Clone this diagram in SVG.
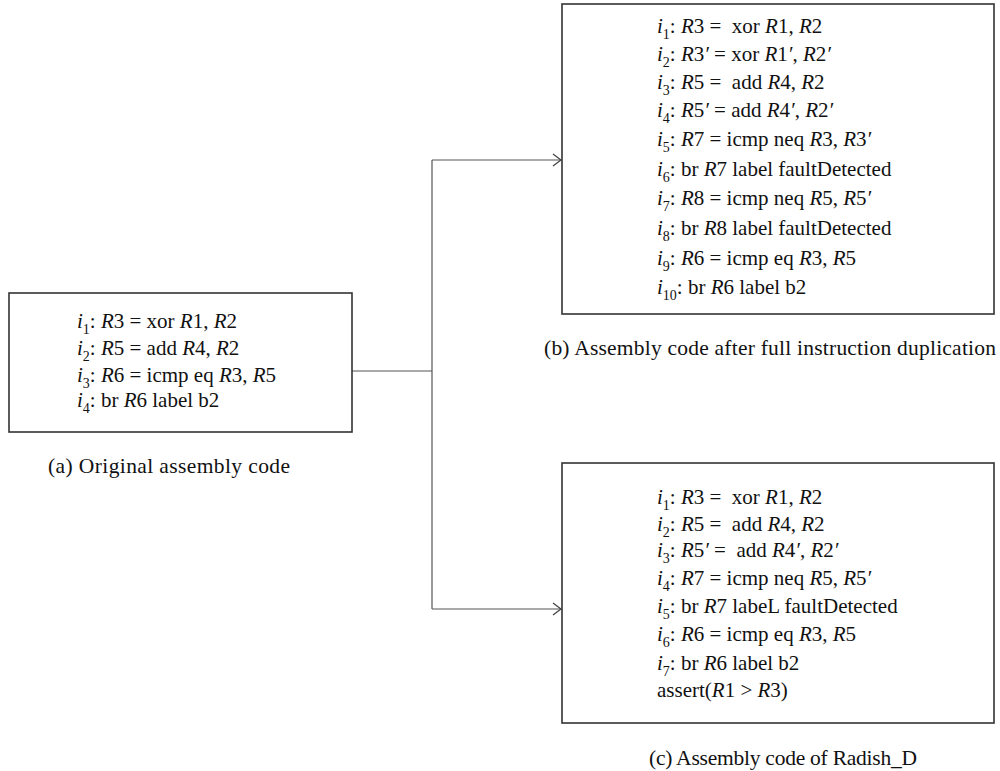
<svg xmlns="http://www.w3.org/2000/svg" width="1000" height="771" viewBox="0 0 1000 771">
<defs>
<style>
.t{font-family:"Liberation Serif","Times New Roman",serif;font-size:21px;fill:#111}
.it{font-style:italic}
.sb{font-size:14px;font-style:normal}
.cap{font-family:"Liberation Serif","Times New Roman",serif;font-size:21.5px;text-anchor:middle;fill:#111}
.box{fill:#fff;stroke:#333;stroke-width:1.6}
.conn{fill:none;stroke:#555;stroke-width:1.2}
</style>
<marker id="arr" markerWidth="10" markerHeight="14" refX="9" refY="7" orient="auto" markerUnits="userSpaceOnUse">
<path d="M1,1 L9,7 L1,13" fill="none" stroke="#444" stroke-width="1.3"/>
</marker>
</defs>
<rect width="1000" height="771" fill="#fff"/>

<g id="connectors">
<path class="conn" d="M352,371 H432"/>
<path class="conn" d="M432,160 V609"/>
<path class="conn" d="M432,160 H561" marker-end="url(#arr)"/>
<path class="conn" d="M432,609 H561" marker-end="url(#arr)"/>
</g>

<g id="node-a" font-family="Liberation Serif, serif">
<rect class="box" x="9" y="293" width="343" height="139"/>
<text class="t" x="77" y="328"><tspan class="it">i</tspan><tspan class="sb" dy="6">1</tspan><tspan dy="-6">: </tspan><tspan class="it">R</tspan>3 = xor <tspan class="it">R</tspan>1, <tspan class="it">R</tspan>2</text>
<text class="t" x="77" y="355"><tspan class="it">i</tspan><tspan class="sb" dy="6">2</tspan><tspan dy="-6">: </tspan><tspan class="it">R</tspan>5 = add <tspan class="it">R</tspan>4, <tspan class="it">R</tspan>2</text>
<text class="t" x="77" y="382"><tspan class="it">i</tspan><tspan class="sb" dy="6">3</tspan><tspan dy="-6">: </tspan><tspan class="it">R</tspan>6 = icmp eq <tspan class="it">R</tspan>3, <tspan class="it">R</tspan>5</text>
<text class="t" x="77" y="407"><tspan class="it">i</tspan><tspan class="sb" dy="6">4</tspan><tspan dy="-6">: br </tspan><tspan class="it">R</tspan>6 label b2</text>
<text class="cap" x="169" y="473" textLength="242" lengthAdjust="spacing">(a) Original assembly code</text>
</g>

<g id="node-b" font-family="Liberation Serif, serif">
<rect class="box" x="562" y="4" width="432" height="310"/>
<text class="t" x="657" y="33"><tspan class="it">i</tspan><tspan class="sb" dy="6">1</tspan><tspan dy="-6">: </tspan><tspan class="it">R</tspan>3 =&#160; xor <tspan class="it">R</tspan>1, <tspan class="it">R</tspan>2</text>
<text class="t" x="657" y="61"><tspan class="it">i</tspan><tspan class="sb" dy="6">2</tspan><tspan dy="-6">: </tspan><tspan class="it">R</tspan>3<tspan class="it">′</tspan> = xor <tspan class="it">R</tspan>1<tspan class="it">′</tspan>, <tspan class="it">R</tspan>2<tspan class="it">′</tspan></text>
<text class="t" x="657" y="89"><tspan class="it">i</tspan><tspan class="sb" dy="6">3</tspan><tspan dy="-6">: </tspan><tspan class="it">R</tspan>5 =&#160; add <tspan class="it">R</tspan>4, <tspan class="it">R</tspan>2</text>
<text class="t" x="657" y="117"><tspan class="it">i</tspan><tspan class="sb" dy="6">4</tspan><tspan dy="-6">: </tspan><tspan class="it">R</tspan>5<tspan class="it">′</tspan> = add <tspan class="it">R</tspan>4<tspan class="it">′</tspan>, <tspan class="it">R</tspan>2<tspan class="it">′</tspan></text>
<text class="t" x="657" y="146"><tspan class="it">i</tspan><tspan class="sb" dy="6">5</tspan><tspan dy="-6">: </tspan><tspan class="it">R</tspan>7 = icmp neq <tspan class="it">R</tspan>3, <tspan class="it">R</tspan>3<tspan class="it">′</tspan></text>
<text class="t" x="657" y="176"><tspan class="it">i</tspan><tspan class="sb" dy="6">6</tspan><tspan dy="-6">: br </tspan><tspan class="it">R</tspan>7 label faultDetected</text>
<text class="t" x="657" y="205"><tspan class="it">i</tspan><tspan class="sb" dy="6">7</tspan><tspan dy="-6">: </tspan><tspan class="it">R</tspan>8 = icmp neq <tspan class="it">R</tspan>5, <tspan class="it">R</tspan>5<tspan class="it">′</tspan></text>
<text class="t" x="657" y="235"><tspan class="it">i</tspan><tspan class="sb" dy="6">8</tspan><tspan dy="-6">: br </tspan><tspan class="it">R</tspan>8 label faultDetected</text>
<text class="t" x="657" y="265"><tspan class="it">i</tspan><tspan class="sb" dy="6">9</tspan><tspan dy="-6">: </tspan><tspan class="it">R</tspan>6 = icmp eq <tspan class="it">R</tspan>3, <tspan class="it">R</tspan>5</text>
<text class="t" x="657" y="294"><tspan class="it">i</tspan><tspan class="sb" dy="6">10</tspan><tspan dy="-6">: br </tspan><tspan class="it">R</tspan>6 label b2</text>
<text class="cap" x="770" y="355" textLength="452" lengthAdjust="spacing">(b) Assembly code after full instruction duplication</text>
</g>

<g id="node-c" font-family="Liberation Serif, serif">
<rect class="box" x="562" y="463" width="432" height="260"/>
<text class="t" x="657" y="504"><tspan class="it">i</tspan><tspan class="sb" dy="6">1</tspan><tspan dy="-6">: </tspan><tspan class="it">R</tspan>3 =&#160; xor <tspan class="it">R</tspan>1, <tspan class="it">R</tspan>2</text>
<text class="t" x="657" y="531"><tspan class="it">i</tspan><tspan class="sb" dy="6">2</tspan><tspan dy="-6">: </tspan><tspan class="it">R</tspan>5 =&#160; add <tspan class="it">R</tspan>4, <tspan class="it">R</tspan>2</text>
<text class="t" x="657" y="557"><tspan class="it">i</tspan><tspan class="sb" dy="6">3</tspan><tspan dy="-6">: </tspan><tspan class="it">R</tspan>5<tspan class="it">′</tspan> =&#160; add <tspan class="it">R</tspan>4<tspan class="it">′</tspan>, <tspan class="it">R</tspan>2<tspan class="it">′</tspan></text>
<text class="t" x="657" y="585"><tspan class="it">i</tspan><tspan class="sb" dy="6">4</tspan><tspan dy="-6">: </tspan><tspan class="it">R</tspan>7 = icmp neq <tspan class="it">R</tspan>5, <tspan class="it">R</tspan>5<tspan class="it">′</tspan></text>
<text class="t" x="657" y="613"><tspan class="it">i</tspan><tspan class="sb" dy="6">5</tspan><tspan dy="-6">: br </tspan><tspan class="it">R</tspan>7 labeL faultDetected</text>
<text class="t" x="657" y="641"><tspan class="it">i</tspan><tspan class="sb" dy="6">6</tspan><tspan dy="-6">: </tspan><tspan class="it">R</tspan>6 = icmp eq <tspan class="it">R</tspan>3, <tspan class="it">R</tspan>5</text>
<text class="t" x="657" y="670"><tspan class="it">i</tspan><tspan class="sb" dy="6">7</tspan><tspan dy="-6">: br </tspan><tspan class="it">R</tspan>6 label b2</text>
<text class="t" x="657" y="697">assert(<tspan class="it">R</tspan>1 &gt; <tspan class="it">R</tspan>3)</text>
<text class="cap" x="783" y="765" textLength="268" lengthAdjust="spacing">(c) Assembly code of Radish_D</text>
</g>
</svg>
